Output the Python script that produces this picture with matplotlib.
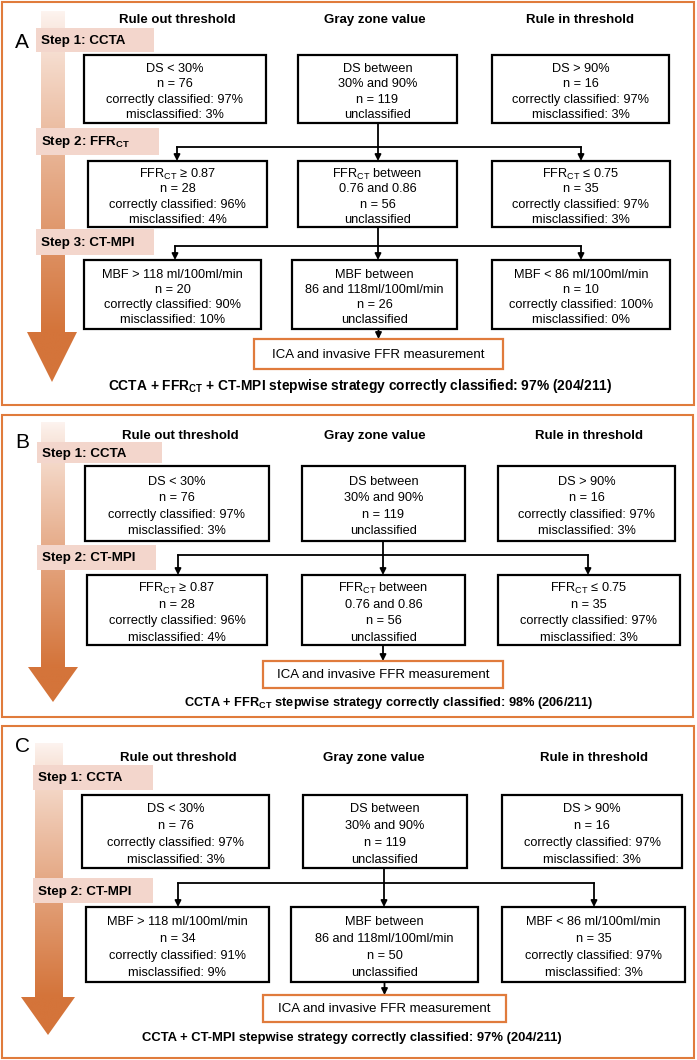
import matplotlib
matplotlib.use("Agg")
import matplotlib.pyplot as plt
import numpy as np
from matplotlib.patches import Rectangle, Polygon
from matplotlib.colors import to_rgb

plt.rcParams['font.family'] = ['Liberation Sans', 'DejaVu Sans']
plt.rcParams['mathtext.fontset'] = 'custom'
plt.rcParams['mathtext.rm'] = 'Liberation Sans'
plt.rcParams['mathtext.bf'] = 'Liberation Sans:bold'

# ---- data ----
headers = ["Rule out threshold", "Gray zone value", "Rule in threshold"]
panel_letters = ["A", "B", "C"]

ccta_boxes = [
    ["DS < 30%", "n = 76", "correctly classified: 97%", "misclassified: 3%"],
    ["DS between", "30% and 90%", "n = 119", "unclassified"],
    ["DS > 90%", "n = 16", "correctly classified: 97%", "misclassified: 3%"],
]
ffr_boxes = [
    ["FFR$_{\\mathregular{CT}}$ ≥ 0.87", "n = 28", "correctly classified: 96%", "misclassified: 4%"],
    ["FFR$_{\\mathregular{CT}}$ between", "0.76 and 0.86", "n = 56", "unclassified"],
    ["FFR$_{\\mathregular{CT}}$ ≤ 0.75", "n = 35", "correctly classified: 97%", "misclassified: 3%"],
]
mbf_boxes_a = [
    ["MBF > 118 ml/100ml/min", "n = 20", "correctly classified: 90%", "misclassified: 10%"],
    ["MBF between", "86 and 118ml/100ml/min", "n = 26", "unclassified"],
    ["MBF < 86 ml/100ml/min", "n = 10", "correctly classified: 100%", "misclassified: 0%"],
]
mbf_boxes_c = [
    ["MBF > 118 ml/100ml/min", "n = 34", "correctly classified: 91%", "misclassified: 9%"],
    ["MBF between", "86 and 118ml/100ml/min", "n = 50", "unclassified"],
    ["MBF < 86 ml/100ml/min", "n = 35", "correctly classified: 97%", "misclassified: 3%"],
]
steps_a = ["Step 1: CCTA", "Step 2: FFR$_{\\mathbf{CT}}$", "Step 3: CT-MPI"]
steps_b = ["Step 1: CCTA", "Step 2: CT-MPI"]
steps_c = ["Step 1: CCTA", "Step 2: CT-MPI"]
summaries = [
    "CCTA + FFR$_{\\mathbf{CT}}$ + CT-MPI stepwise strategy correctly classified: 97% (204/211)",
    "CCTA + FFR$_{\\mathbf{CT}}$ stepwise strategy correctly classified: 98% (206/211)",
    "CCTA + CT-MPI stepwise strategy correctly classified: 97% (204/211)",
]
ica_label = "ICA and invasive FFR measurement"

# ---- layout (pixels, y down) ----
layouts = [
    dict(border=(2, 2, 694, 405), letter=(22, 43), shaft=(41, 65, 11, 332), head=(27, 77, 382),
         header_y=20, header_x=[177, 375, 580],
         steps=[(36, 28, 154, 52), (36, 128, 159, 155), (36, 229, 154, 255)],
         rows=[([(84, 266), (298, 457), (492, 669)], 55, 123),
               ([(88, 267), (298, 457), (492, 670)], 161, 227),
               ([(84, 261), (292, 457), (492, 670)], 260, 329)],
         conn=[(147, [177, 378, 581]), (246, [175, 378, 581])],
         ica=(254, 339, 503, 369), summary=(360, 386, 9.9), gap=15.3),
    dict(border=(2, 415, 693, 717), letter=(22, 443), shaft=(41, 65, 422, 667), head=(28, 78, 702),
         header_y=436, header_x=[180, 375, 589],
         steps=[(37, 442, 162, 463), (37, 545, 156, 570)],
         rows=[([(85, 269), (302, 465), (498, 675)], 466, 541),
               ([(87, 267), (302, 465), (498, 680)], 575, 645)],
         conn=[(555, [178, 383, 588])],
         ica=(263, 661, 503, 688), summary=(389, 703, 9.2), gap=16.5),
    dict(border=(2, 726, 694, 1058), letter=(22, 747), shaft=(35, 63, 743, 997), head=(21, 75, 1035),
         header_y=758, header_x=[178, 374, 594],
         steps=[(33, 765, 153, 790), (33, 878, 153, 903)],
         rows=[([(82, 269), (303, 467), (502, 682)], 795, 868),
               ([(86, 269), (291, 478), (502, 685)], 907, 982)],
         conn=[(883, [178, 384, 594])],
         ica=(263, 995, 506, 1022), summary=(352, 1038, 9.4), gap=17.0),
]
panel_boxes = [[ccta_boxes, ffr_boxes, mbf_boxes_a], [ccta_boxes, ffr_boxes], [ccta_boxes, mbf_boxes_c]]
panel_steps = [steps_a, steps_b, steps_c]

orange = '#e07b3c'
pink = '#f3d6cc'
dark = np.array(to_rgb('#d4743a'))
light = np.array(to_rgb('#fdf4f0'))

fig = plt.figure(figsize=(6.97, 10.6), dpi=100)
ax = fig.add_axes([0, 0, 1, 1])
ax.axis('off')


def arrow(x, y0, y1):
    ax.annotate('', xy=(x, y1), xytext=(x, y0),
                arrowprops=dict(arrowstyle='-|>', lw=1.3, color='k', mutation_scale=9,
                                shrinkA=0, shrinkB=0), zorder=4)


for p, L in enumerate(layouts):
    bx0, by0, bx1, by1 = L['border']
    ax.add_patch(Rectangle((bx0, by0), bx1 - bx0, by1 - by0, fill=False, ec=orange, lw=1.5, zorder=1))
    ax.text(L['letter'][0], L['letter'][1], panel_letters[p], fontsize=15, ha='center', va='center', zorder=5)

    # big gradient arrow
    sx0, sx1, top, base = L['shaft']
    hx0, hx1, tip = L['head']
    pts = [(sx0, top), (sx1, top), (sx1, base), (hx1, base), ((hx0 + hx1) / 2, tip), (hx0, base), (sx0, base)]
    poly = Polygon(pts, closed=True, fc='none', ec='none', zorder=2)
    ax.add_patch(poly)
    ys = np.linspace(top, tip, 300)
    t = np.clip((ys - top) / (base - top), 0, 1) ** 0.85
    grad = light[None, :] * (1 - t[:, None]) + dark[None, :] * t[:, None]
    im = ax.imshow(grad[:, None, :], extent=(hx0, hx1, tip, top), origin='upper', aspect='auto', zorder=2)
    im.set_clip_path(poly)

    for i, h in enumerate(headers):
        ax.text(L['header_x'][i], L['header_y'], h, fontsize=9.5, weight='bold', ha='center', va='center')

    for r, (sx, sy0, sx1_, sy1) in enumerate(L['steps']):
        ax.add_patch(Rectangle((sx, sy0), sx1_ - sx, sy1 - sy0, fc=pink, ec='none', zorder=3))
        ax.text(sx + 5, (sy0 + sy1) / 2 + 1, panel_steps[p][r], fontsize=9.6, weight='bold',
                ha='left', va='center', zorder=4)

    for r, (xs, y0, y1) in enumerate(L['rows']):
        for c, (x0, x1) in enumerate(xs):
            ax.add_patch(Rectangle((x0, y0), x1 - x0, y1 - y0, fc='white', ec='k', lw=1.6, zorder=3))
            lines = panel_boxes[p][r][c]
            yc = (y0 + y1) / 2 + 3
            for k, s in enumerate(lines):
                ax.text((x0 + x1) / 2, yc + (k - (len(lines) - 1) / 2) * L['gap'], s,
                        fontsize=9.2, ha='center', va='center', zorder=4)

    # connectors between rows
    for r, (hy, axs) in enumerate(L['conn']):
        xs, y0, y1 = L['rows'][r]
        ny0 = L['rows'][r + 1][1]
        ax.plot([axs[1], axs[1]], [y1, hy], color='k', lw=1.3, zorder=4)
        ax.plot([axs[0], axs[2]], [hy, hy], color='k', lw=1.3, zorder=4)
        for x in axs:
            arrow(x, hy, ny0)

    ix0, iy0, ix1, iy1 = L['ica']
    last = L['rows'][-1]
    arrow((ix0 + ix1) / 2, last[2], iy0)
    ax.add_patch(Rectangle((ix0, iy0), ix1 - ix0, iy1 - iy0, fc='white', ec=orange, lw=1.6, zorder=3))
    ax.text((ix0 + ix1) / 2, (iy0 + iy1) / 2 + 1, ica_label, fontsize=9.5, ha='center', va='center', zorder=4)

    sxc, syc, sfs = L['summary']
    ax.text(sxc, syc, summaries[p], fontsize=sfs, weight='bold', ha='center', va='center', zorder=4)

ax.set_xlim(0, 697)
ax.set_ylim(1060, 0)
fig.savefig('out.png', dpi=100)
